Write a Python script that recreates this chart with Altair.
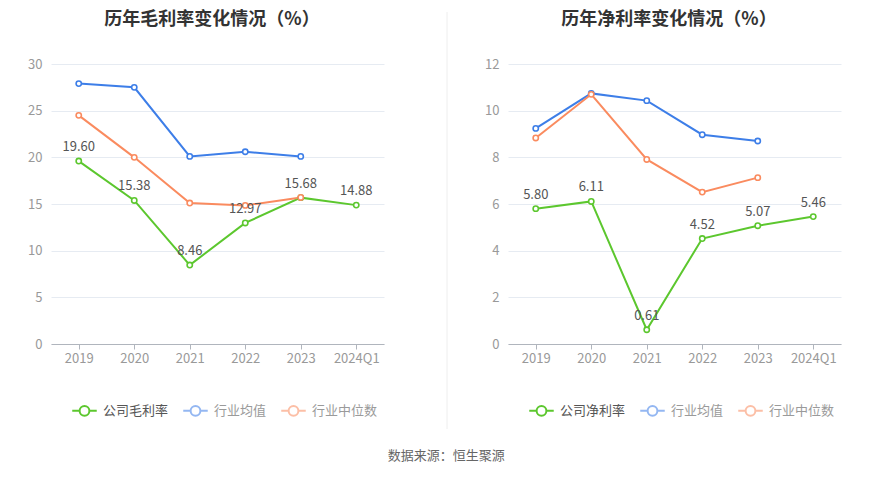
import altair as alt
import pandas as pd

years = ["2019", "2020", "2021", "2022", "2023", "2024Q1"]

gross_title = "历年毛利率变化情况（%）"
gross_names = ["公司毛利率", "行业均值", "行业中位数"]
gross_company = [19.60, 15.38, 8.46, 12.97, 15.68, 14.88]
gross_avg = [27.9, 27.5, 20.1, 20.6, 20.1, None]
gross_median = [24.5, 20.0, 15.1, 14.85, 15.7, None]

net_title = "历年净利率变化情况（%）"
net_names = ["公司净利率", "行业均值", "行业中位数"]
net_company = [5.80, 6.11, 0.61, 4.52, 5.07, 5.46]
net_avg = [9.24, 10.74, 10.43, 8.97, 8.70, None]
net_median = [8.83, 10.70, 7.91, 6.51, 7.13, None]

colors = ["#5cc72e", "#3d7ee8", "#fa8b5f"]
source_text = "数据来源：恒生聚源"
FONT = "Noto Sans CJK SC"

LEGEND_SYMBOL = ("M-1,0L-0.4,0M0.4,0L1,0"
                 "M-0.4,0A0.4,0.4,0,1,1,0.4,0A0.4,0.4,0,1,1,-0.4,0Z")

W = 333


def panel(title, names, company, avg, median, ymax, ystep, divider=False):
    rows = []
    for i, yr in enumerate(years):
        for name, arr in zip(names, [company, avg, median]):
            if arr[i] is not None:
                rows.append({"year": yr, "series": name, "value": arr[i]})
    df = pd.DataFrame(rows)
    comp = df[df["series"] == names[0]].copy()
    comp["label"] = comp["value"].map(lambda v: f"{v:.2f}")

    x = alt.X("year:N", sort=years,
              scale=alt.Scale(type="point", padding=0.5),
              axis=alt.Axis(title=None, labelAngle=0, domainColor="#b0b5bd",
                            tickColor="#b0b5bd", tickSize=5, labelPadding=3,
                            labelColor="#999999", labelFontSize=13, grid=False))
    y = alt.Y("value:Q", scale=alt.Scale(domain=[0, ymax], nice=False),
              axis=alt.Axis(title=None, values=list(range(0, ymax + 1, ystep)),
                            domain=False, ticks=False, labelPadding=9,
                            labelColor="#999999", labelFontSize=13,
                            gridColor="#e6ebf2"))
    color = alt.Color("series:N",
                      scale=alt.Scale(domain=names, range=colors),
                      legend=alt.Legend(
                          title=None, orient="none", direction="horizontal",
                          legendX=20, legendY=333,
                          symbolType=LEGEND_SYMBOL, symbolSize=600,
                          symbolStrokeWidth=2, symbolFillColor="white",
                          labelFontSize=13,
                          labelColor=alt.ExprRef("datum.index == 0 ? '#555555' : '#9a9a9a'"),
                          symbolOpacity=alt.ExprRef("datum.index == 0 ? 1 : 0.55"),
                          labelOffset=5, columnPadding=10))

    base = alt.Chart(df)
    line = base.mark_line(strokeWidth=2).encode(x=x, y=y, color=color)
    pts = base.mark_point(filled=False, fill="white", size=28,
                          strokeWidth=1.6, opacity=1).encode(
        x=x, y=y, color=color)
    txt = alt.Chart(comp).mark_text(dy=-14, fontSize=13, color="#555555").encode(
        x=x, y=y, text="label:N")
    head = alt.Chart(alt.Data(values=[{"t": title}])).mark_text(
        fontSize=18, fontWeight="bold", color="#333333", baseline="middle",
        align="center").encode(text="t:N", x=alt.value(161), y=alt.value(-44))
    layers = [line, pts, txt, head]
    if divider:
        rule = alt.Chart(alt.Data(values=[{"a": 1}])).mark_rule(
            color="#eeeeee", strokeWidth=1).encode(
            x=alt.value(-61), y=alt.value(-52), y2=alt.value(365))
        layers = [rule] + layers
    return alt.layer(*layers).properties(width=W, height=280)


left = panel(gross_title, gross_names, gross_company, gross_avg,
             gross_median, 30, 5)
right = panel(net_title, net_names, net_company, net_avg,
              net_median, 12, 2, divider=True)

chart = alt.hconcat(left, right, spacing=124, bounds="flush").resolve_scale(
    color="independent").resolve_legend(color="independent").properties(
    padding={"left": 19, "top": 3, "right": 5, "bottom": 5},
    title=alt.TitleParams(source_text, orient="bottom", anchor="middle",
                          fontSize=13, fontWeight="normal", color="#666666",
                          offset=20, dx=12),
).configure(font=FONT).configure_view(stroke=None)

chart.save("out.html", embed_options={"renderer": "svg", "actions": False})
